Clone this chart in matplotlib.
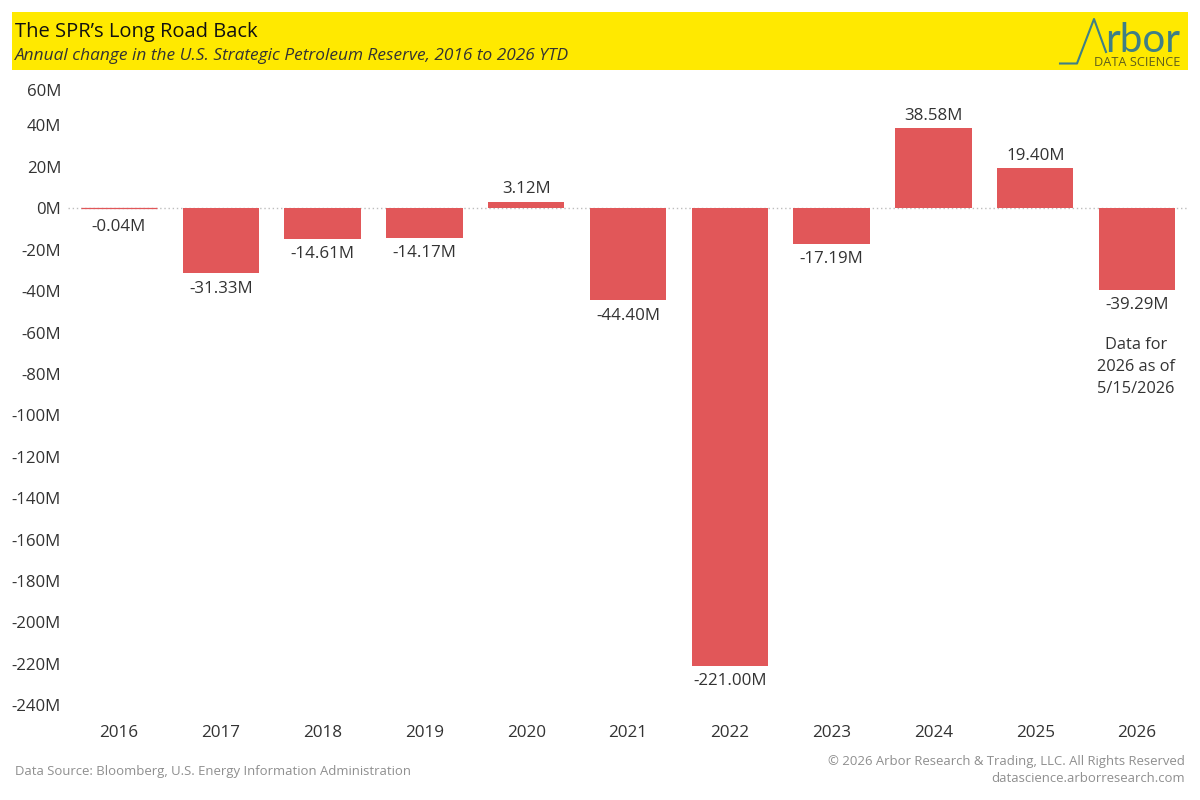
import matplotlib
matplotlib.use("Agg")
import matplotlib.pyplot as plt
from matplotlib.patches import Rectangle
from matplotlib.lines import Line2D

plt.rcParams['font.family'] = ['Open Sans', 'DejaVu Sans']

years = ['2016', '2017', '2018', '2019', '2020', '2021', '2022', '2023', '2024', '2025', '2026']
changes = [-0.04, -31.33, -14.61, -14.17, 3.12, -44.40, -221.00, -17.19, 38.58, 19.40, -39.29]
y_ticks = list(range(60, -241, -20))
title = "The SPR\u2019s Long Road Back"
subtitle = "Annual change in the U.S. Strategic Petroleum Reserve, 2016 to 2026 YTD"
note = "Data for\n2026 as of\n5/15/2026"
source = "Data Source: Bloomberg, U.S. Energy Information Administration"
rights = "\u00a9 2026 Arbor Research & Trading, LLC. All Rights Reserved"
site = "datascience.arborresearch.com"

W, H = 1200, 800
BAR = '#E15759'
TXT = '#333333'
GREY = '#8f8f8f'
TEAL = '#3f7f86'

def fx(px): return px / W
def fy(py): return 1 - py / H

fig = plt.figure(figsize=(12, 8), dpi=100, facecolor='white')

# Banner
fig.add_artist(Rectangle((fx(12), fy(70)), 1176 / W, 58 / H, transform=fig.transFigure,
                         facecolor='#FFE900', edgecolor='none'))
fig.text(fx(15), fy(31.5), title, fontsize=14.5, color='#111111', va='center', ha='left')
fig.text(fx(15), fy(55.5), subtitle, fontsize=12.4, style='italic', color='#333333', va='center', ha='left')

# Logo
fig.add_artist(Line2D([fx(1060), fx(1077), fx(1094), fx(1106)], [fy(63.5), fy(63.5), fy(19), fy(52)],
                      color=TEAL, lw=1.5, transform=fig.transFigure))
fig.text(fx(1180), fy(52), "rbor", fontsize=29, color=TEAL, ha='right', va='baseline', fontweight='normal',
         family=['Lato', 'DejaVu Sans'])
fig.text(fx(1180), fy(65.5), "DATA SCIENCE", fontsize=9.2, color='#5f5f1c', ha='right', va='baseline')

# Plot: 0 at y=208, 2.072 px per M
top_px, bot_px = 84, 714
ax = fig.add_axes([fx(68), fy(bot_px), 1120 / W, (bot_px - top_px) / H])
ax.set_facecolor('none')
k = 2.072
ax.set_ylim((208 - bot_px) / k, (208 - top_px) / k)
ax.set_xlim(-0.5, 10.5)

pos = list(range(len(years)))
bars = ax.bar(pos, changes, width=0.75, color=BAR, zorder=3)
bars[0].set_edgecolor(BAR)
bars[0].set_linewidth(0.9)
ax.axhline(0, color='#bdbdbd', lw=1, ls=(0, (1, 2)), zorder=1)

for s in ax.spines.values():
    s.set_visible(False)

ax.set_xticks(pos, years)
ax.set_yticks(y_ticks, [f"{v}M" for v in y_ticks])
ax.tick_params(axis='both', length=0, labelsize=12.1, labelcolor=TXT)
ax.tick_params(axis='y', pad=5)
ax.tick_params(axis='x', pad=8, labelsize=12.3)
for lab in ax.get_yticklabels():
    if lab.get_text() == '60M':
        lab.set_va('top')

for x, v in zip(pos, changes):
    if v > 0:
        off = 3.2
    elif abs(v) < 1:
        off = -7.5
    else:
        off = -5.4
    ax.annotate(f"{v:.2f}M", (x, v), xytext=(0, off), textcoords='offset points',
                ha='center', va='bottom' if v > 0 else 'top', fontsize=12.2, color=TXT, zorder=4)

ax.annotate(note, (10, changes[-1]), xytext=(-1, -34), textcoords='offset points',
            ha='center', va='top', fontsize=11.8, color=TXT, linespacing=1.52)

# Footer
fig.text(fx(15), fy(771), source, fontsize=9.45, color=GREY, ha='left', va='center')
fig.text(fx(1185), fy(762), rights, fontsize=9.45, color=GREY, ha='right', va='center')
fig.text(fx(1185), fy(779), site, fontsize=9.45, color=GREY, ha='right', va='center')

fig.savefig('out.png', dpi=100, facecolor='white')
